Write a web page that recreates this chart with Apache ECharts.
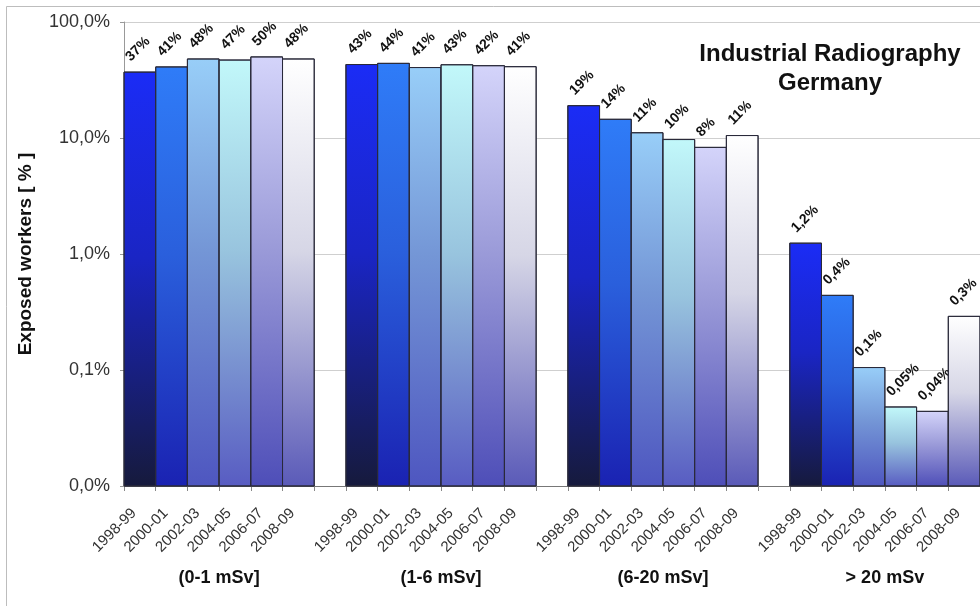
<!DOCTYPE html>
<html><head><meta charset="utf-8">
<script src="https://cdn.jsdelivr.net/npm/echarts@6/dist/echarts.min.js"></script>
<style>html,body{margin:0;padding:0;background:#fff}#c{width:980px;height:606px}</style>
</head><body><div id="c"></div>
<script>
// ---- data ----
const periods = ['1998-99', '2000-01', '2002-03', '2004-05', '2006-07', '2008-09'];
const doseGroups = ['(0-1 mSv]', '(1-6 mSv]', '(6-20 mSv]', '> 20 mSv'];
const share0to1 = [37, 41, 48, 47, 50, 48];
const share1to6 = [43, 44, 40.5, 42.8, 42, 41.2];
const share6to20 = [19, 14.5, 11.1, 9.7, 8.3, 10.5];
const shareOver20 = [1.24, 0.44, 0.105, 0.048, 0.044, 0.29];
const labels0to1 = ['37%', '41%', '48%', '47%', '50%', '48%'];
const labels1to6 = ['43%', '44%', '41%', '43%', '42%', '41%'];
const labels6to20 = ['19%', '14%', '11%', '10%', '8%', '11%'];
const labelsOver20 = ['1,2%', '0,4%', '0,1%', '0,05%', '0,04%', '0,3%'];
const Y_MIN = 0.01, Y_MAX = 100;

// ---- styles ----
const periodColors = [
  ['#1b2cf6', '#1a25c4', '#161a3c'],
  ['#2f7cf8', '#2a5fdc', '#1a22b2'],
  ['#98cef8', '#7496d6', '#4e56c0'],
  ['#c2f8fa', '#98c4de', '#585cc2'],
  ['#d4d4fa', '#9a9ad8', '#4e4eb8'],
  ['#ffffff', '#d6d6e6', '#5a5ab8']
];
function grad(c) {
  return new echarts.graphic.LinearGradient(0, 0, 0, 1, [
    { offset: 0, color: c[0] },
    { offset: 0.45, color: c[1] },
    { offset: 1, color: c[2] }
  ]);
}

const groupValues = [share0to1, share1to6, share6to20, shareOver20];
const groupLabels = [labels0to1, labels1to6, labels6to20, labelsOver20];
const categories = [];
const barData = [];
groupValues.forEach((vals, g) => {
  if (g > 0) categories.push('');
  vals.forEach((v, i) => {
    barData.push([categories.length, v, i, g]);
    categories.push(periods[i]);
  });
});

const FONT = 'Liberation Sans, Arial, sans-serif';
const chart = echarts.init(document.getElementById('c'), null, { renderer: 'canvas' });

function renderBar(params, api) {
  const ci = api.value(0), v = api.value(1), p = api.value(2), g = api.value(3);
  const top = api.coord([ci, v]);
  const base = api.coord([ci, Y_MIN]);
  const w = api.coord([ci + 1, v])[0] - top[0];
  const x0 = top[0] - w / 2;
  return {
    type: 'group',
    children: [{
      type: 'rect',
      shape: { x: x0, y: top[1], width: w, height: base[1] - top[1] },
      style: { fill: grad(periodColors[p]), stroke: '#2a2a3a', lineWidth: 1 }
    }, {
      type: 'text', x: x0 + 9, y: top[1] - 8, rotation: Math.PI / 4,
      style: {
        text: groupLabels[g][p], align: 'left', verticalAlign: 'bottom',
        font: 'bold 14px ' + FONT, fill: '#111'
      }
    }]
  };
}

chart.setOption({
  animation: false,
  backgroundColor: '#fff',
  textStyle: { fontFamily: FONT },
  grid: { left: 124, right: 0, top: 22, bottom: 120, containLabel: false },
  xAxis: {
    type: 'category', data: categories,
    axisLine: { lineStyle: { color: '#777', width: 1 } },
    axisTick: { show: true, interval: 0, length: 5, lineStyle: { color: '#888' } },
    axisLabel: {
      interval: 0, rotate: 45, fontSize: 15, color: '#333', margin: 19, fontFamily: FONT,
      formatter: v => (v ? v + '  ' : '')
    }
  },
  yAxis: {
    type: 'log', logBase: 10, min: Y_MIN, max: Y_MAX,
    name: 'Exposed workers [ % ]', nameLocation: 'middle', nameGap: 89,
    nameTextStyle: { fontFamily: FONT, fontSize: 19, fontWeight: 'bold', color: '#111' },
    axisLine: { show: true, lineStyle: { color: '#999' } },
    axisTick: { show: true, length: 4, lineStyle: { color: '#999' } },
    axisLabel: {
      fontSize: 18, color: '#333', margin: 14, fontFamily: FONT,
      formatter: v => v.toFixed(1).replace('.', ',') + '%'
    },
    splitLine: { show: true, lineStyle: { color: '#cfcfcf' } }
  },
  series: [{
    type: 'custom', data: barData, renderItem: renderBar,
    encode: { x: 0, y: 1 }, clip: false
  }]
});

// frame, title and group captions
const graphics = [{
  type: 'rect', shape: { x: 6.5, y: 6.5, width: 1000, height: 700 },
  style: { fill: null, stroke: '#bdbdbd', lineWidth: 1 }, z: -1, silent: true
}, {
  type: 'text', x: 830, y: 54,
  style: { text: 'Industrial Radiography', font: 'bold 24px ' + FONT, fill: '#111', align: 'center', verticalAlign: 'middle' }
}, {
  type: 'text', x: 830, y: 83,
  style: { text: 'Germany', font: 'bold 24px ' + FONT, fill: '#111', align: 'center', verticalAlign: 'middle' }
}];
doseGroups.forEach((name, g) => {
  const x1 = chart.convertToPixel({ xAxisIndex: 0 }, g * 7);
  const x2 = chart.convertToPixel({ xAxisIndex: 0 }, g * 7 + 5);
  graphics.push({
    type: 'text', x: (x1 + x2) / 2, y: 578,
    style: { text: name, font: 'bold 18px ' + FONT, fill: '#111', align: 'center', verticalAlign: 'middle' }
  });
});
chart.setOption({ graphic: graphics });
</script>
</body></html>
